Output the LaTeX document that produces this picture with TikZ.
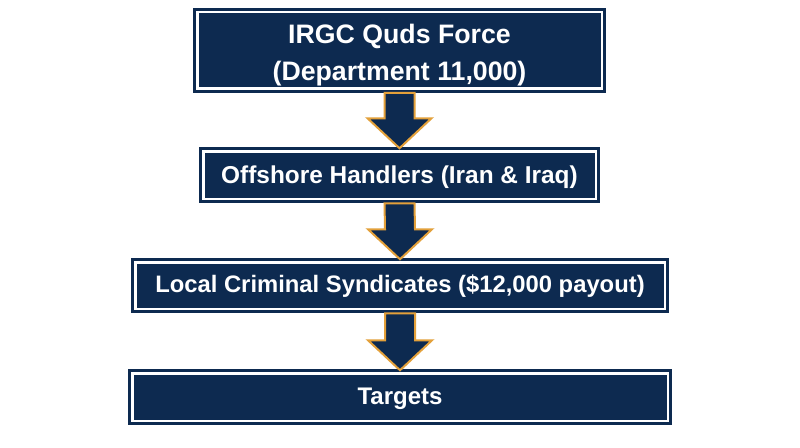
\documentclass[tikz,border=0pt]{standalone}
\usepackage{fontspec}
\setmainfont{Liberation Sans}
\usetikzlibrary{calc}
\definecolor{navy}{HTML}{0D2A50}
\definecolor{gold}{HTML}{E3A03A}
\tikzset{
  flowbox/.style={rectangle, fill=navy, draw=navy, line width=3pt,
    double=white, double distance=2.5pt, inner sep=0pt, outer sep=0pt,
    text=white, align=center, font=\bfseries, text depth=0pt},
  flowarrow/.style={fill=navy, draw=gold, line width=2pt, line join=miter}
}
\newcommand\downflow[2]{%
  \draw[flowarrow] ($(#1)+(-15,0)$) -- ($(#1)+(15,0)$) -- ($(#2)+(15,-30)$)
    -- ($(#2)+(32,-30)$) -- (#2) -- ($(#2)+(-32,-30)$) -- ($(#2)+(-15,-30)$) -- cycle;}
\begin{document}
\begin{tikzpicture}[x=1pt,y=-1pt]
\useasboundingbox (0,0) rectangle (800,447);
\fill[white] (0,0) rectangle (800,447);
\node[flowbox, minimum width=404.5pt, minimum height=76.5pt, text height=61pt,
  font=\bfseries\fontsize{26.7}{36.7}\selectfont] (b1) at (399.5,50)
  {IRGC Quds Force\\(Department 11,000)};
\node[flowbox, minimum width=392.5pt, minimum height=47.5pt, text height=17.5pt,
  font=\bfseries\fontsize{24.4}{28}\selectfont] (b2) at (399.5,175)
  {Offshore Handlers (Iran \& Iraq)};
\node[flowbox, minimum width=529.5pt, minimum height=46.5pt, text height=14pt,
  font=\bfseries\fontsize{23.8}{28}\selectfont] (b3) at (400,285.5)
  {Local Criminal Syndicates (\$12,000 payout)};
\node[flowbox, minimum width=535.5pt, minimum height=47.5pt, text height=14pt,
  font=\bfseries\fontsize{24}{28}\selectfont] (b4) at (400,397)
  {Targets};
\coordinate (a1t) at ($(b1.south)+(0,4.5)$);
\coordinate (a1e) at ($(b2.north)+(0,-3)$);
\coordinate (a2t) at ($(b2.south)+(0,4.5)$);
\coordinate (a2e) at ($(b3.north)+(0,-3)$);
\coordinate (a3t) at ($(b3.south)+(0,4.5)$);
\coordinate (a3e) at ($(b4.north)+(0,-3)$);
\downflow{a1t}{a1e}
\downflow{a2t}{a2e}
\downflow{a3t}{a3e}
\end{tikzpicture}
\end{document}
